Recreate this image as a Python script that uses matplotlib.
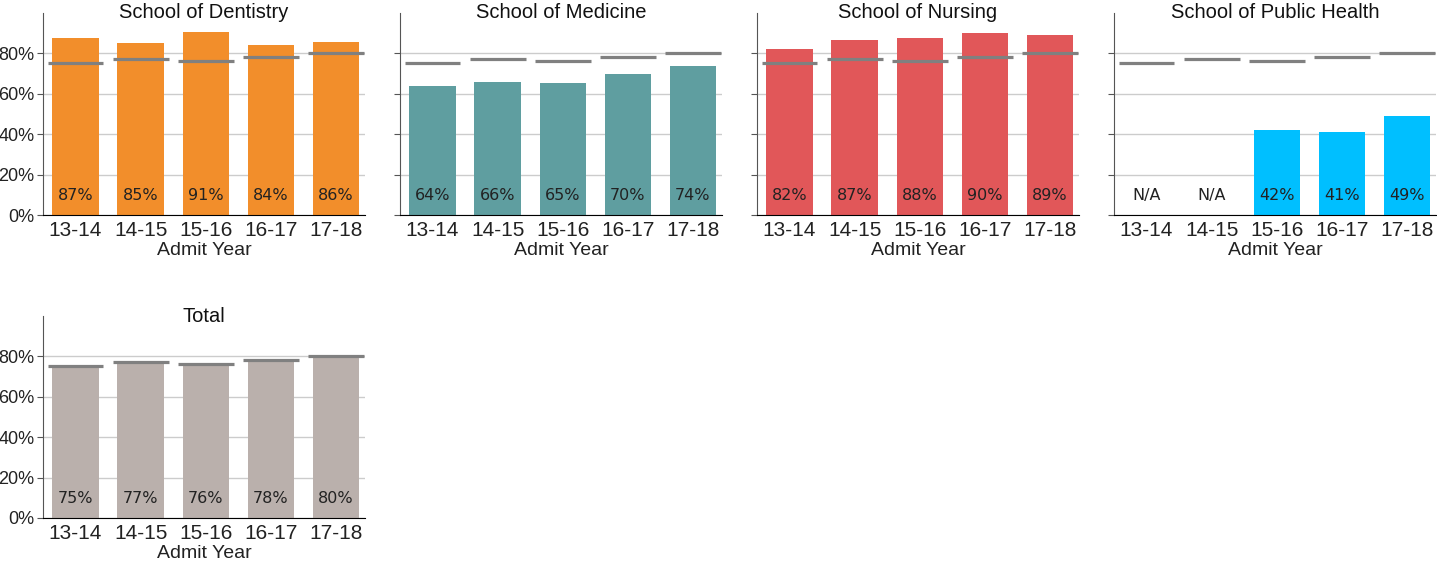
import numpy as np
import matplotlib.pyplot as plt
from matplotlib.ticker import FuncFormatter

years = ['13-14', '14-15', '15-16', '16-17', '17-18']

dentistry = [87.4, 85.0, 90.6, 84.0, 85.5]
medicine = [64.0, 65.6, 65.3, 70.0, 73.8]
nursing = [82.3, 86.6, 87.5, 90.0, 89.0]
public_health = [np.nan, np.nan, 42.0, 41.0, 49.0]
total = [75.4, 77.2, 76.4, 78.3, 80.0]

schools = ['School of Dentistry', 'School of Medicine', 'School of Nursing',
           'School of Public Health', 'Total']
values = [dentistry, medicine, nursing, public_health, total]
colors = ['#F28E2B', '#5F9EA0', '#E15759', '#00BFFF', '#BAB0AC']

plt.rcParams['font.family'] = ['Liberation Sans', 'DejaVu Sans']

W, H = 1437, 566
fig = plt.figure(figsize=(W / 100, H / 100), dpi=100)

col_left = [43, 400, 757, 1114]
row_top = [13, 316]
ax_w, ax_h = 322, 202

x = np.arange(len(years))

for k, (name, vals, color) in enumerate(zip(schools, values, colors)):
    row, col = divmod(k, 4)
    ax = fig.add_axes([col_left[col] / W, 1 - (row_top[row] + ax_h) / H,
                       ax_w / W, ax_h / H])
    vals = np.array(vals, dtype=float)
    ax.bar(x, np.nan_to_num(vals), width=0.71, color=color, zorder=2)
    ax.hlines(total, x - 0.43, x + 0.43, color='#808080', linewidth=2.3, zorder=3)
    for xi, v in zip(x, vals):
        txt = 'N/A' if np.isnan(v) else f'{v:.0f}%'
        ax.text(xi, 9.5, txt, ha='center', va='center', fontsize=11.5,
                family='DejaVu Sans', color='#222222', zorder=4)

    ax.set_ylim(0, 100)
    ax.set_xlim(-0.5, 4.45)
    ax.set_yticks([0, 20, 40, 60, 80])
    ax.yaxis.grid(True, color='#cccccc', linewidth=1, zorder=0)
    ax.set_axisbelow(True)
    if col == 0:
        ax.yaxis.set_major_formatter(FuncFormatter(lambda v, p: f'{v:.0f}%'))
    else:
        ax.set_yticklabels([])
    ax.tick_params(axis='y', labelsize=13, length=4, pad=2, color='#555555',
                   labelcolor='#222222')
    ax.set_xticks(x)
    ax.set_xticklabels(years, fontsize=15, color='#222222')
    ax.tick_params(axis='x', length=0, pad=4)
    ax.spines['top'].set_visible(False)
    ax.spines['right'].set_visible(False)
    ax.spines['left'].set_color('#555555')
    ax.spines['bottom'].set_color('black')
    ax.text(0.5, 1.0, name, transform=ax.transAxes, ha='center', va='center',
            fontsize=14.5, color='#111111')
    ax.set_xlabel('Admit Year', fontsize=14, labelpad=2, color='#222222')

fig.savefig('out.png', dpi=100)
